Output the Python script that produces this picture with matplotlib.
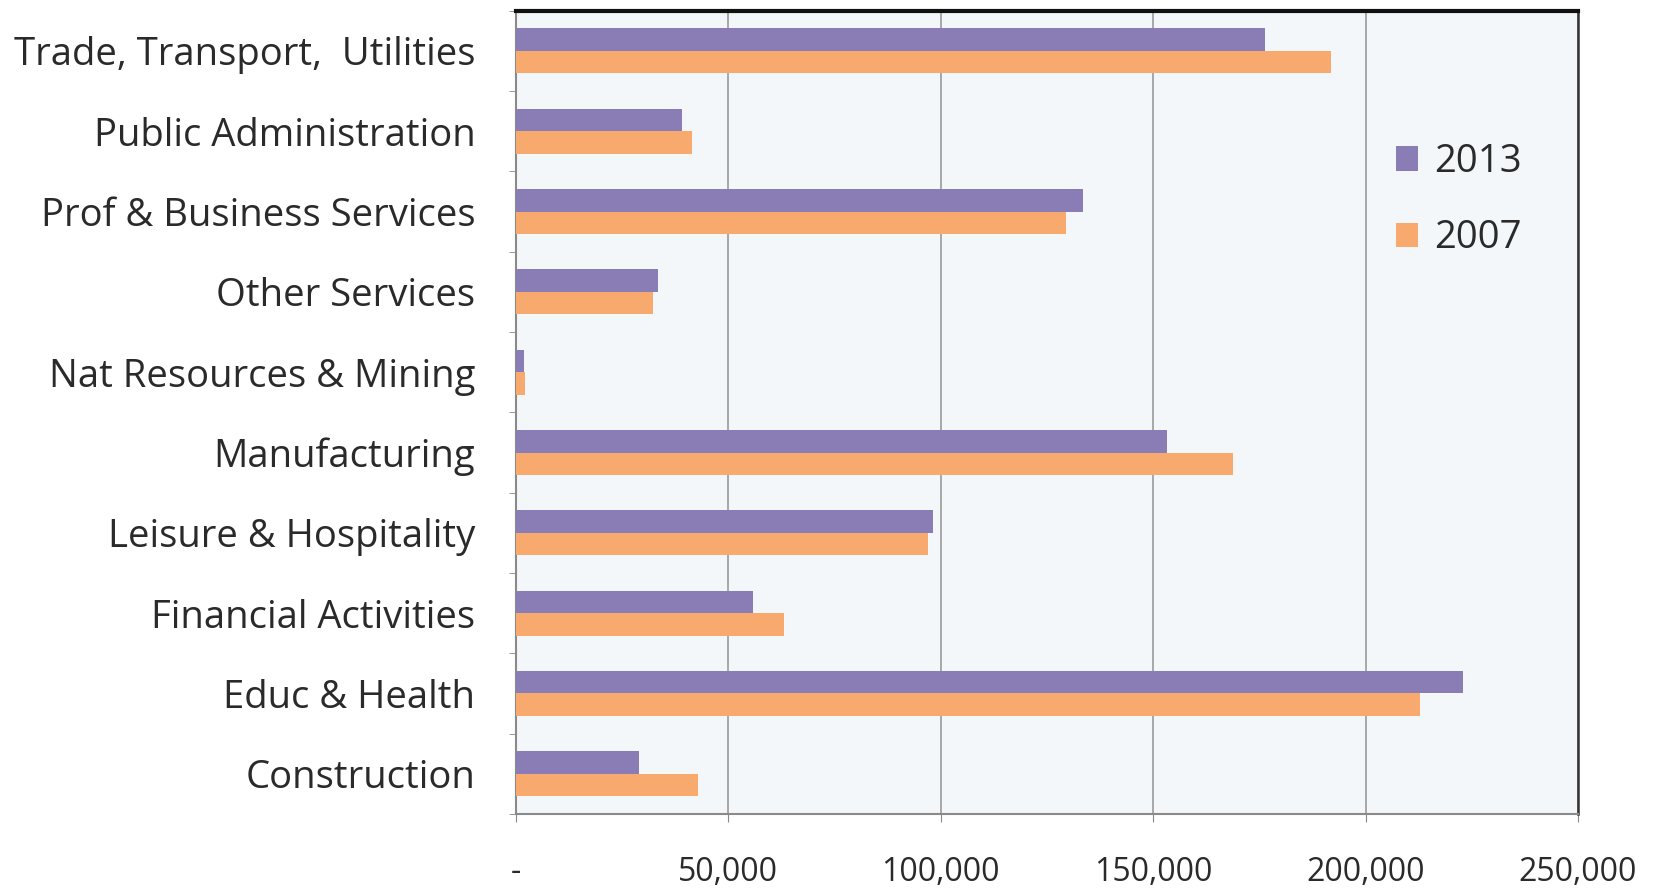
import numpy as np
import matplotlib
matplotlib.use("Agg")
import matplotlib.pyplot as plt
from matplotlib.ticker import FuncFormatter

plt.rcParams['font.family'] = ['Open Sans', 'DejaVu Sans']

# categories bottom -> top
categories = ["Construction", "Educ & Health", "Financial Activities",
              "Leisure & Hospitality", "Manufacturing", "Nat Resources & Mining",
              "Other Services", "Prof & Business Services",
              "Public Administration", "Trade, Transport,  Utilities"]
jobs_2013 = [28900, 223000, 55900, 98200, 153200, 2000, 33600, 133400, 39100, 176400]
jobs_2007 = [43000, 212900, 63200, 97000, 168900, 2300, 32300, 129600, 41400, 191800]

c2013 = "#8a7db6"
c2007 = "#f8a96e"

fig = plt.figure(figsize=(16.69, 8.93), dpi=100)
ax = fig.add_axes([0.309, 0.0885, 0.6365, 0.8995])
ax.set_facecolor("#f3f7f9")

y = np.arange(len(categories))
h = 0.28
ax.barh(y + h / 2, jobs_2013, height=h, color=c2013, label="2013", zorder=3)
ax.barh(y - h / 2, jobs_2007, height=h, color=c2007, label="2007", zorder=3)

ax.set_xlim(0, 250000)
ax.set_ylim(-0.5, len(categories) - 0.5)
ax.set_xticks(np.arange(0, 250001, 50000))
ax.xaxis.set_major_formatter(FuncFormatter(lambda v, p: "-" if v == 0 else f"{int(v):,}"))
ax.grid(axis="x", color="#9a9a9a", linewidth=1.2, zorder=1)

ax.set_yticks(y)
ax.set_yticklabels(categories)
ax.set_yticks(np.arange(-0.5, len(categories), 1), minor=True)
ax.tick_params(axis="y", which="major", length=0, pad=29, labelsize=27.5, labelcolor="#2a2a2a")
ax.tick_params(axis="y", which="minor", length=5, color="#888888")
ax.tick_params(axis="x", length=6, color="#888888", pad=24, labelsize=23, labelcolor="#2a2a2a")

for s in ["left", "bottom"]:
    ax.spines[s].set_color("#8a8a8a")
    ax.spines[s].set_linewidth(1.5)
ax.spines["top"].set_color("#111111")
ax.spines["top"].set_linewidth(3)
ax.spines["right"].set_color("#333333")
ax.spines["right"].set_linewidth(1.8)

ax.legend(loc="upper right", bbox_to_anchor=(0.979, 0.878), frameon=False,
          fontsize=27.5, handlelength=0.6, handleheight=0.6, handletextpad=0.4,
          labelspacing=1.0, labelcolor="#2a2a2a")

fig.savefig("out.png", dpi=100, facecolor="white")
